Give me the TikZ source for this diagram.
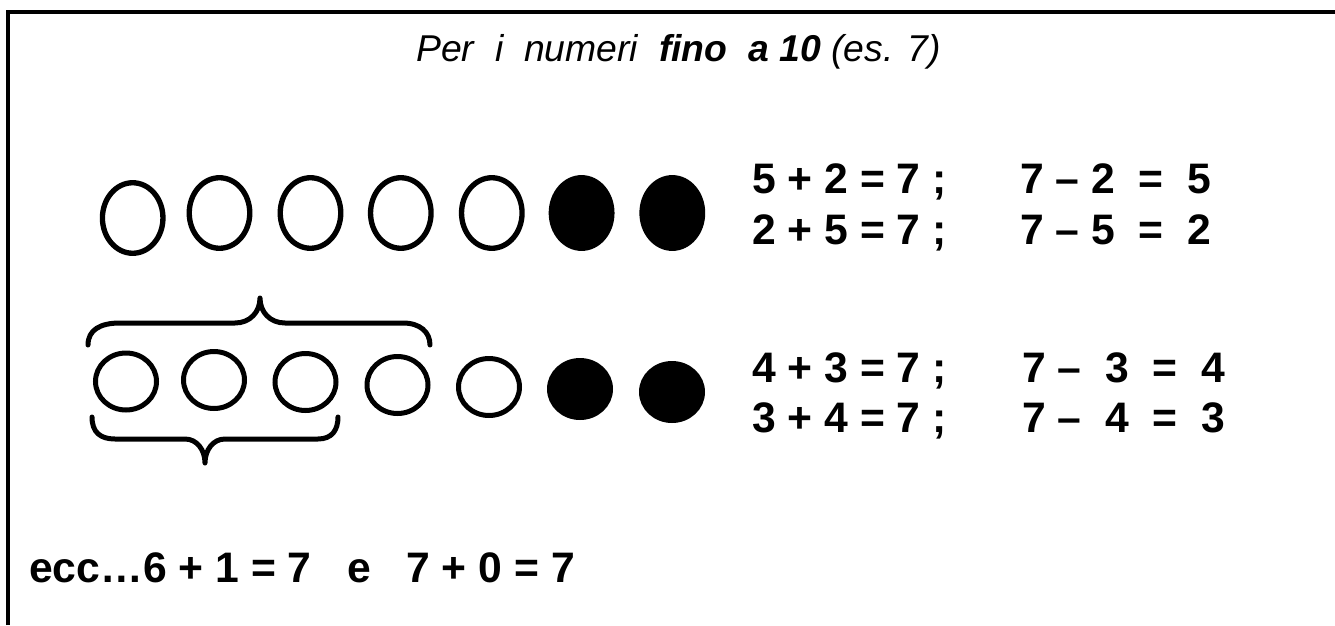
\documentclass[tikz,border=0pt]{standalone}
\usepackage{fontspec}
\setmainfont{Liberation Sans}
\usetikzlibrary{shapes.geometric}
\begin{document}
\begin{tikzpicture}[x=0.75pt,y=-0.75pt,
  ringA/.style={ellipse,draw=black,line width=4pt,inner sep=0pt,minimum width=45.4pt,minimum height=52.9pt},
  dotA/.style={ringA,fill=black},
  ringB/.style={ellipse,draw=black,line width=3.75pt,inner sep=0pt,minimum width=45.75pt,minimum height=42.75pt},
  dotB/.style={ringB,fill=black},
  brace/.style={draw=black,line width=3.75pt,line cap=round,line join=round},
  frame/.style={draw=black,line width=3pt},
  eq/.style={anchor=base west,inner sep=0pt,font=\fontsize{32}{38}\selectfont\bfseries},
  title/.style={anchor=base west,inner sep=0pt,font=\fontsize{28}{33}\selectfont\itshape}]
\useasboundingbox (0,0) rectangle (1335,625);
\draw[frame] (8,625) -- (8,12) -- (1335,12);
% title
\node[title] (t) at (416,61) {Per~~i~~numeri~~\textbf{fino~~a 10} (es. 7)};
% row 1
\node[ringA] (a1) at (132.7,218) {};
\node[ringA] (a2) at (219.5,213) {};
\node[ringA] (a3) at (310.5,213) {};
\node[ringA] (a4) at (400.8,213) {};
\node[ringA] (a5) at (491.8,213) {};
\node[dotA] (a6) at (581.6,213) {};
\node[dotA] (a7) at (672.3,213) {};
\node[eq] (e1) at (752,193) {5 + 2 = 7 ;};
\node[eq] (e2) at (752,244) {2 + 5 = 7 ;};
\node[eq] (e3) at (1020,193) {7 – 2~~=~~5};
\node[eq] (e4) at (1020,244) {7 – 5~~=~~2};
% row 2
\node[ringB] (b1) at (126,381.5) {};
\node[ringB] (b2) at (214,380) {};
\node[ringB] (b3) at (305.5,382) {};
\node[ringB] (b4) at (397.5,385) {};
\node[ringB] (b5) at (489,387) {};
\node[dotB] (b6) at (580,389) {};
\node[dotB] (b7) at (672,392) {};
\node[eq] (f1) at (752,382) {4 + 3 = 7 ;};
\node[eq] (f2) at (752,432) {3 + 4 = 7 ;};
\node[eq] (f3) at (1022,382) {7 –~~3~~=~~4};
\node[eq] (f4) at (1022,432) {7 –~~4~~=~~3};
% braces
\draw[brace] (88,345) .. controls (88,330) and (100,323) .. (120,323)
  -- (235,323) .. controls (250,323) and (260,312) .. (260,298)
  .. controls (260,312) and (270,323) .. (285,323)
  -- (403,323) .. controls (420,323) and (430,332) .. (430,345);
\draw[brace] (92,417) .. controls (92,432) and (100,439) .. (115,439)
  -- (185,439) .. controls (197,439) and (205,450) .. (205,463)
  .. controls (205,450) and (213,439) .. (225,439)
  -- (318,439) .. controls (332,439) and (338,430) .. (338,417);
% bottom
\node[eq] (g) at (29,582) {ecc…6 + 1 = 7~~~e~~~7 + 0 = 7};
\end{tikzpicture}
\end{document}
